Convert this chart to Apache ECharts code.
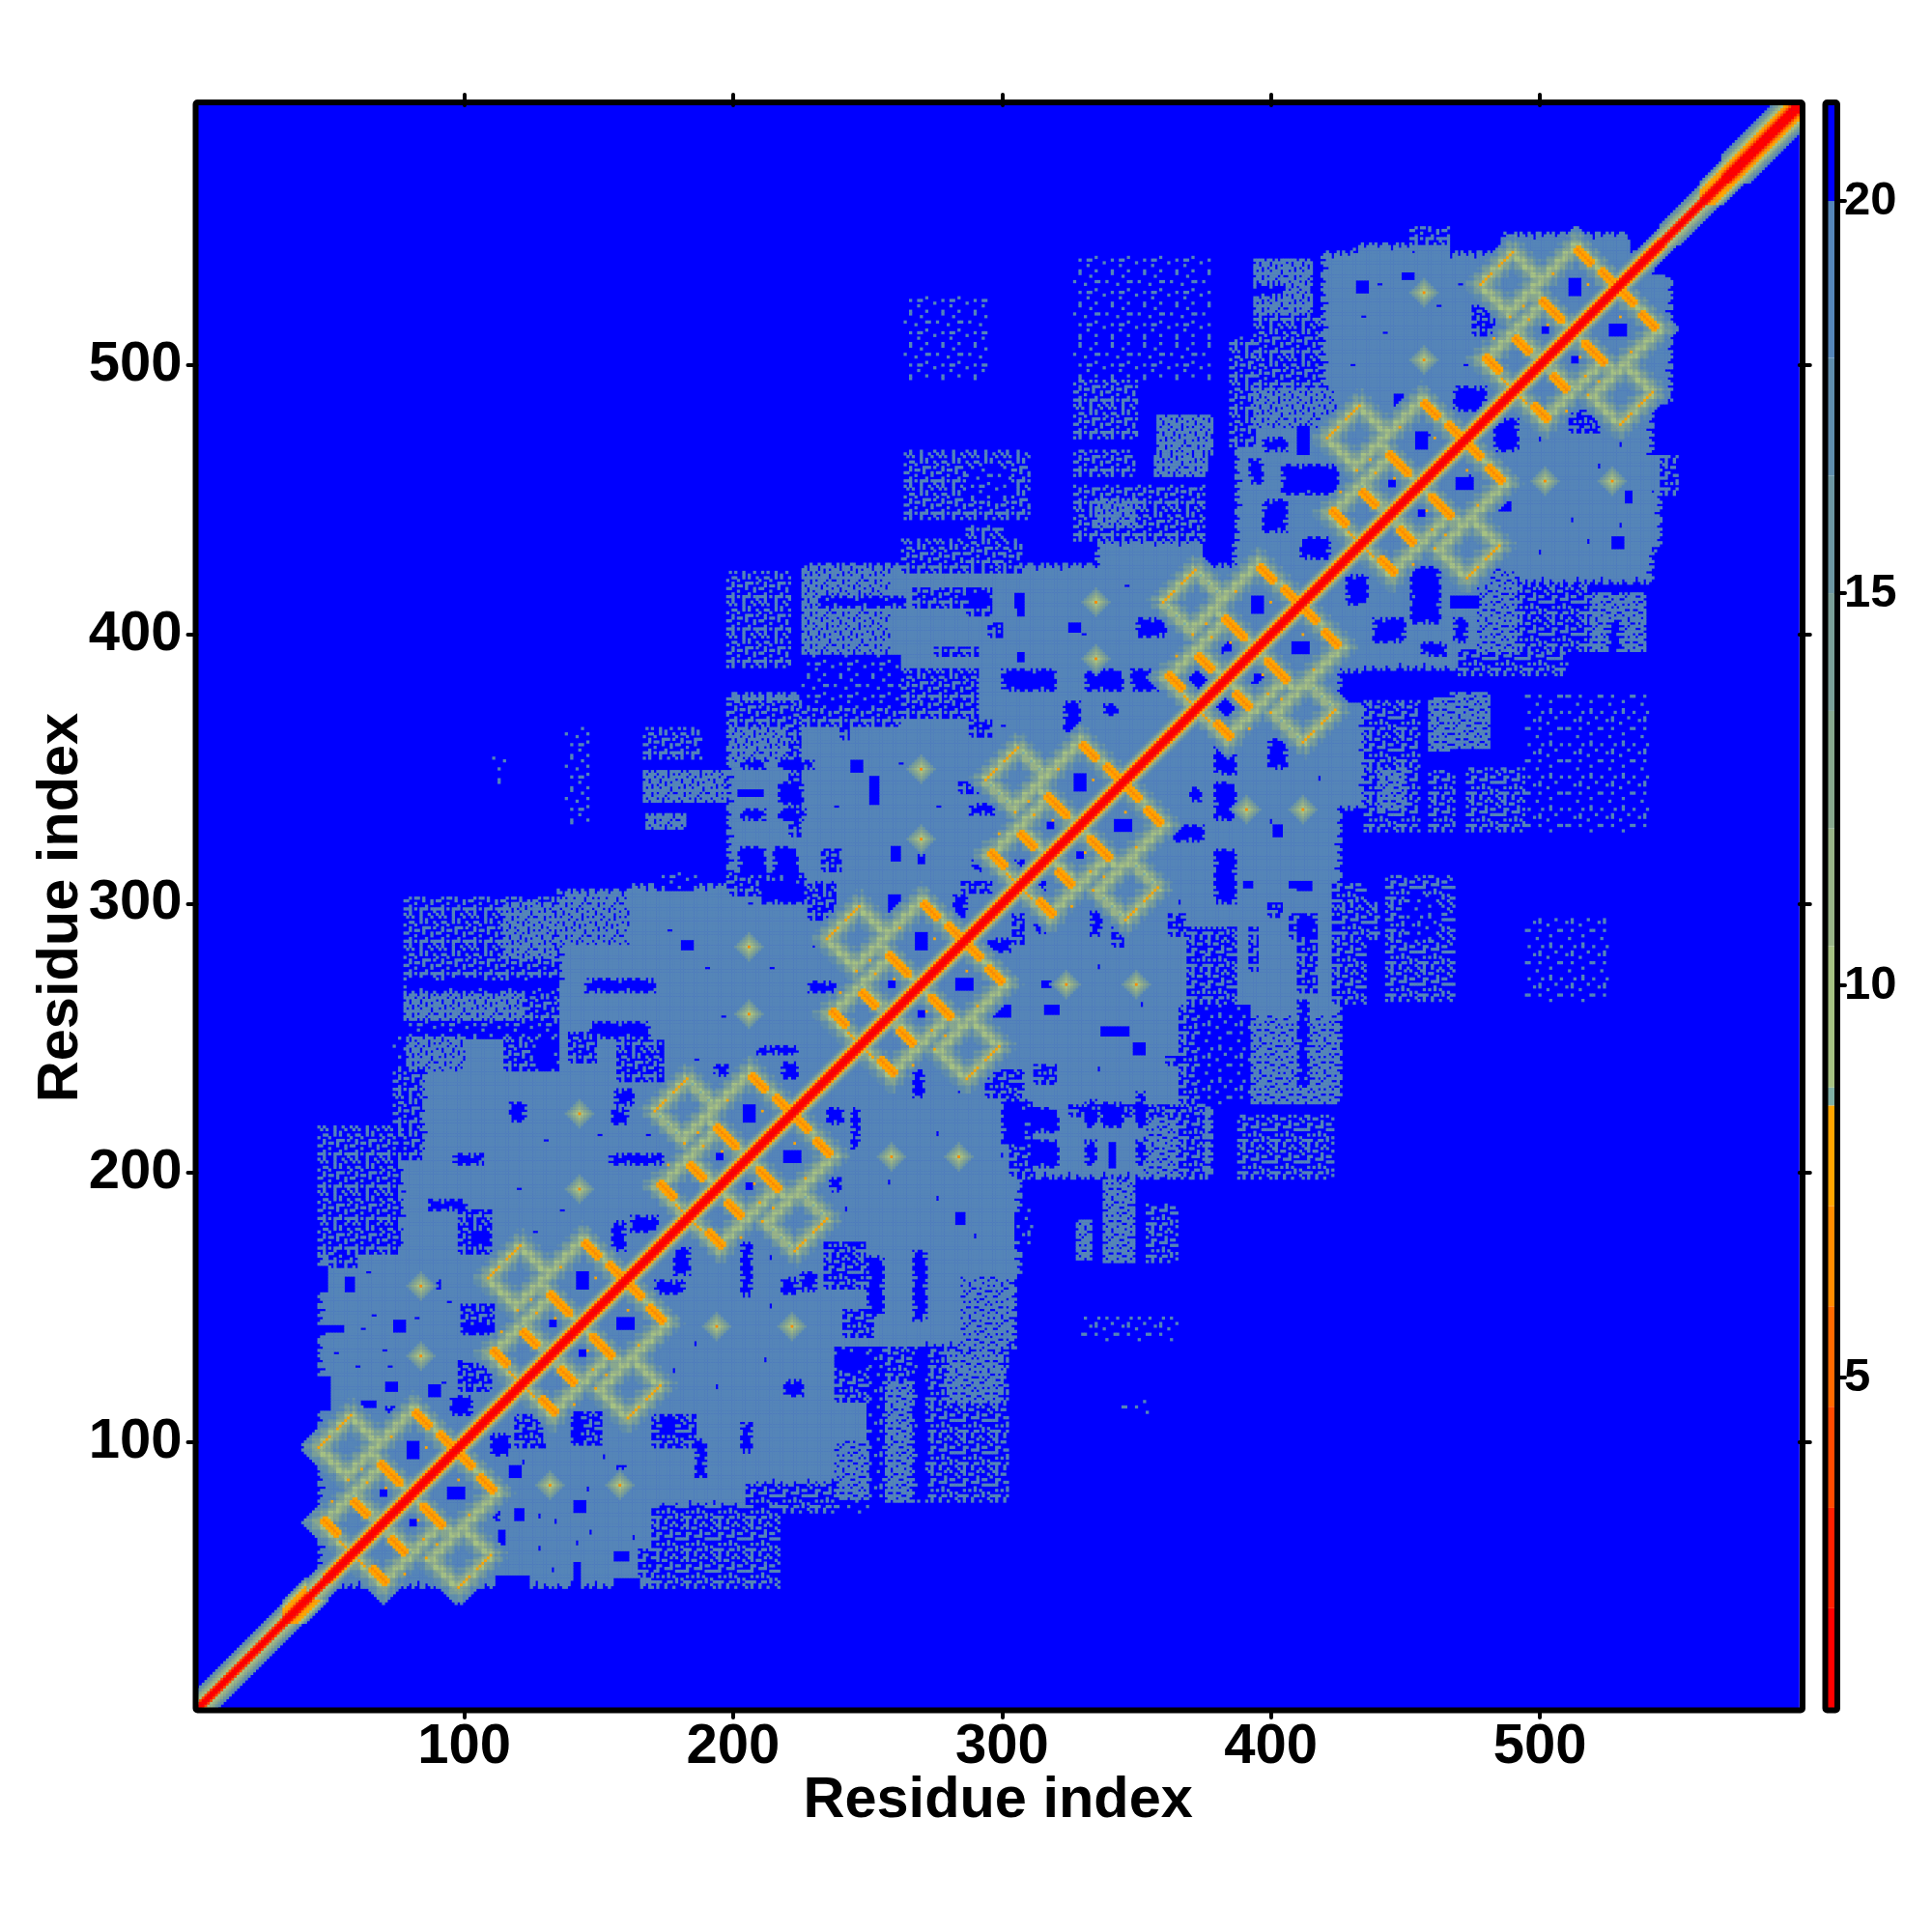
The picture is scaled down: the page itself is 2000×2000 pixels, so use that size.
<!DOCTYPE html>
<html><head><meta charset="utf-8">
<style>html,body{margin:0;background:#fff}#c{width:2000px;height:2000px}</style>
<script src="https://cdn.jsdelivr.net/npm/echarts@6/dist/echarts.min.js"></script>
</head><body><div id="c"></div>
<script>
const residueCount = 596;
const tickLabels = [100,200,300,400,500];
const colorTicks = [5,10,15,20];
const colorBreaks = [0.79,2.06,3.34,4.63,5.91,7.19,8.47,8.7,10.5,12,13.5,15,16.5,18,20,21.22];
const colorValues = ['#ff0000','#ff2000','#ff4a00','#ff6a00','#ff8c00','#ffa500','#7fb0a5','#a6c283','#98b387','#88a88e','#7a9f98','#6c96a2','#5f8dac','#5585b8','#0000ff'];
const STEEL = 19, BLUE = 21;

// regions of the upper triangle read as steel: [x0,x1,y0,y1]
const steelRects = [[46,175,48,173],[76,305,170,208],[84,305,205,241],[78,305,238,270],[135,350,267,305],[161,350,302,307],
[198,380,303,378],[226,425,375,426],[335,374,423,435],[386,425,423,435],[387,560,432,488],[419,560,485,542],[431,452,539,545],[452,466,539,548],[486,533,539,549]];

// speckled regions: [x0,x1,y0,y1,density tile]
const speckleRects = [[78,135,272,302,2],[115,133,280,300,3],[78,123,256,267,3],[123,135,256,267,2],[78,135,250,256,1],[78,100,238,250,3],[115,135,238,250,2],
[135,161,285,302,3],[74,84,205,238,2],[46,76,181,217,2],[46,76,170,181,2],[50,60,165,170,2],[74,78,238,250,1],[139,149,241,252,2],[157,174,234,249,2],[98,110,170,186,2],[99,111,140,151,2],[98,110,119,129,2],
[233,240,312,320,2],[228,238,294,308,2],[284,295,341,345,2],[285,296,304,308,2],[199,224,353,372,3],[199,224,366,375,2],[221,225,325,372,2],[168,182,328,333,3],[167,197,338,349,3],[167,188,354,365,2],[198,221,388,423,2],
[226,258,393,425,3],[226,262,372,392,1],[226,262,366,372,2],[263,291,375,387,2],[263,291,369,375,2],[267,294,410,417,2],[263,307,423,435,2],[264,310,443,468,2],[264,294,495,525,1],[287,303,450,462,1],[287,300,425,440,2],
[327,350,473,495,2],[358,378,467,481,3],[357,376,459,467,3],[327,349,459,468,2],[327,375,435,455,2],[335,350,440,450,3],[327,378,495,510,1],[327,378,510,540,1],
[394,415,518,539,3],[385,394,470,510,2],[394,418,491,518,2],[394,424,477,491,3],[452,466,545,551,2],[138,146,330,365,1],[111,115,345,356,1],[172,186,305,312,1],[199,226,303,312,2],[295,300,399,404,2],[275,291,392,395,2],[288,296,362,368,2],[240,243,361,365,2],[379,382,388,395,2],[287,296,407,417,2],[475,483,511,522,2]];

// holes read as solid blue: [x0,x1,y0,y1]
const blueRects = [[78,135,267,272],[145,171,267,272],[147,169,250,256],[126,135,238,250],[117,123,219,226],[156,163,225,231],[155,161,218,224],[96,107,203,207],[154,174,203,207],[87,101,186,190],
[103,109,172,178],[155,160,171,182],[162,172,178,184],[56,59,156,161],[86,92,157,160],[100,111,141,143],[46,55,141,143],[74,78,141,145],[95,103,110,117],[87,91,117,121],[71,75,119,122],[62,67,113,115],[71,76,110,113],[46,49,156,165],[46,50,112,124],
[181,185,283,286],[218,224,235,241],[193,198,236,240],[209,224,244,247],[244,248,349,353],[251,254,337,347],[288,297,333,337],[259,262,316,321],[269,271,315,321],[289,309,312,316],[282,287,295,303],[258,262,295,303],[228,238,267,271],
[203,212,350,353],[217,230,350,353],[202,211,340,342],[217,226,337,345],[203,212,331,335],[217,227,331,335],[202,212,310,321],[215,224,310,321],[210,227,300,309],[232,264,410,414],[305,308,410,415],[300,320,379,387],[331,345,379,387],[348,379,379,387],[323,329,363,375],[338,343,370,374],
[397,406,468,473],[410,414,467,477],[392,397,456,465],[404,425,452,463],[397,406,438,450],[411,422,428,436],[394,405,526,530],[432,436,527,531],[449,453,532,534],[446,449,483,489],[468,480,483,492],[350,361,399,406],[306,308,407,413],[325,329,401,404],[380,386,397,406],[287,296,410,416],[306,308,390,393]];
// single stray blue cells read inside the steel regions
const blueDots = [[66,147],[62,142],[70,134],[72,128],[60,128],[92,122],[82,146],[98,130],[94,152],[52,133],[64,163],[120,194],[126,178],[136,186],[146,196],[150,214],[124,246],[130,212],[168,214],[178,230],[186,242],[196,258],[214,276],[206,300],[176,290],[190,276],[230,284],[242,290],[238,336],[262,352],[276,336],[300,366],[312,352],[252,370],[308,360],[330,400],[346,418],[430,500],[442,512],[462,522],[470,530],[428,470],[436,462],[446,476],[458,474],[472,500],[434,518],[440,530],[414,452],[212,184],[204,196],[158,140],[166,152],[176,164],[156,166],[122,146],[114,132],[110,158]];
// roughness of region edges, in residues
const edgeSteel = [0,1,0,2,1,0,0,1,3,1,0,2,0,1,2,0,1,3,0,0,2,1];
const edgeHole = [0,1,0,0,1,1,0,2,0,1,0];

// 12x12 speckle tiles, one per density
const speckleTile1 = ["..#.........","..#.....#...","............",".....#......","...........#","..#..##.....","........#...","............","....#.......","#.......##..","............","......#....."];
const speckleTile2 = ["#.#...#..#..","..#...#....#","###.#.###.##","..#.....#...","....#.....#.","##.....#..#.","..#.##.#....","..#....###.#","#...#.......","..##..#.#..#","......#.#...",".#.#..#...#."];
const speckleTile3 = ["##.####.###.","#.###.#.#.##","###.####.###",".##.#.###.#.","##########.#","#.#.##.###.#","###.#.##.###","##.###.#.#.#",".#.###.#####","####.##.#.##","#.###.###.#.","##.#.####.##"];

// repeat units along the diagonal: first crossing residue of each
const clusterBases = [58,121,183,247,306,372,433,490];
// strokes of each repeat, relative to its base: [di,dj,length,direction]
const haloStrokes = [[-11,12,10,-1],[1,22,9,-1],[8,37,13,-1],[24,54,14,-1],[-11,39,9,-1],[1,51,9,-1],[-10,12,21,1],[-1,30,24,1],[-11,41,10,1]];
const ridgeStrokes = [[-10,13,5,-1],[1,20,5,-1],[11,34,7,-1],[24,53,5,-1],[33,45,5,-1]];
const thinStrokes = [[-4,5,3,-1],[-5,47,5,1],[-11,41,3,1]];
const ridgeDots = [[-1,28],[12,31],[6,27],[13,25],[19,26],[-12,40],[28,40],[-7,20],[4,32],[15,44]];
const motifHoles = [[21,25,36,42],[11,13,22,24]];
const haloByDistance = [10.4,11,12,13.5,15,16,17,18];
const haloHatch = [0,1.1,-0.9];
const ridgeCore = 6.2, ridgeSide = 7.8;

// isolated contact spots off the diagonal
const spots = [[84,158],[84,132],[143,222],[143,194],[206,284],[206,259],[270,350],[270,324],[335,412],[335,391],[457,527],[457,502]];
const spotByDistance = [6.5,9.5,10.5,12,14,16,18];

// value by distance from the diagonal, per stretch of the chain
const bandCore = [1.5,1.5,3,7.5,10.5,14,17.5];
const bandTail = [1.5,1.5,4.5,9.5,11,13,15,17];
const bandBurst = [1.5,1.5,2.5,6.5,7.5,7.5,10,13,17];
const bandWide = [1.5,1.5,2,4,6.5,7.5,10,11,13.5,16,18];
const bandSections = [[1,33,bandTail],[33,42,bandBurst],[42,48,bandTail],[48,545,bandCore],[545,560,bandTail],[560,568,bandBurst],[568,597,bandWide]];

const residues = [];
for (let r=1;r<=residueCount;r++) residues.push(r);
const M = [];
for (let i=0;i<=residueCount+1;i++) M.push(new Float32Array(residueCount+2).fill(BLUE));
const paint = (x,y,v)=>{ // keep the closest contact, mirrored across the diagonal
  if (x<1||y<1||x>residueCount||y>residueCount) return;
  if (v<M[x][y]) {M[x][y]=v;} if (v<M[y][x]) {M[y][x]=v;}
};
const assign = (x,y,v)=>{ if (x<1||y<1||x>residueCount||y>residueCount||x>=y) return; M[x][y]=v; M[y][x]=v; };
const inRough=(x,y,a,b,c,d,e)=>{
  const n=e.length;
  return x>=a+e[y%n] && x<=b-e[(y+5)%n] && y>=c+e[x%n] && y<=d-e[(x+3)%n];
};
steelRects.forEach(([a,b,c,d])=>{for(let y=c;y<=d;y++)for(let x=a;x<=b;x++) if(x>=a+edgeSteel[y%edgeSteel.length] && y<=d-edgeSteel[(x+3)%edgeSteel.length] && (c>48||y>=c+edgeSteel[x%edgeSteel.length]||x>=y-8)) assign(x,y,STEEL);});
const tiles=[null,speckleTile1,speckleTile2,speckleTile3];
speckleRects.forEach(([a,b,c,d,t])=>{for(let y=c;y<=d;y++)for(let x=a;x<=b;x++){assign(x,y,tiles[t][(y-c)%12][(x-a)%12]==='#'?STEEL:BLUE);}});
blueRects.forEach(([a,b,c,d])=>{const big=(b-a)>=5&&(d-c)>=3;for(let y=c;y<=d;y++)for(let x=a;x<=b;x++) if(!big||inRough(x,y,a,b,c,d,edgeHole)) assign(x,y,BLUE);});
blueDots.forEach(([x,y])=>{assign(x,y,BLUE);assign(x+1,y,BLUE);});
clusterBases.forEach(b=>{
  motifHoles.forEach(([x0,x1,y0,y1])=>{for(let y=y0;y<=y1;y++)for(let x=x0;x<=x1;x++)assign(b+x,b+y,BLUE);});
  haloStrokes.forEach(([di,dj,len,dir])=>{
    for(let k=0;k<=len;k++){
      const cx=b+di+k, cy=b+dj+dir*k;
      for(let ox=-7;ox<=7;ox++)for(let oy=-7;oy<=7;oy++){
        const l=Math.abs(ox)+Math.abs(oy); if(l>7) continue;
        const x=cx+ox,y=cy+oy;
        paint(x,y,Math.min(haloByDistance[l]+haloHatch[x%3]+haloHatch[y%3],STEEL));
      }
    }
  });
  ridgeStrokes.forEach(([di,dj,len,dir])=>{
    for(let k=0;k<=len;k++){
      const cx=b+di+k, cy=b+dj+dir*k;
      paint(cx,cy,ridgeCore);paint(cx+1,cy,ridgeSide);paint(cx,cy-1,ridgeSide);paint(cx-1,cy,ridgeSide);paint(cx,cy+1,ridgeSide);
      paint(cx+1,cy+1,ridgeSide);paint(cx-1,cy-1,ridgeSide);
    }
  });
  thinStrokes.forEach(([di,dj,len,dir])=>{
    for(let k=0;k<=len;k++) paint(b+di+k,b+dj+dir*k,ridgeSide);
  });
  ridgeDots.forEach(([di,dj])=>paint(b+di,b+dj,ridgeSide));
});
spots.forEach(([sx,sy])=>{
  for(let ox=-6;ox<=6;ox++)for(let oy=-6;oy<=6;oy++){
    const l=Math.abs(ox)+Math.abs(oy); if(l<=6) paint(sx+ox,sy+oy,spotByDistance[l]);
  }
});
bandSections.forEach(([from,to,prof])=>{
  for(let i=from;i<to;i++) prof.forEach((v,d)=>paint(i,i+d,v));
});
const cells=[];
for(let x=1;x<=residueCount;x++)for(let y=1;y<=residueCount;y++){
  if(M[x][y]<20) cells.push([x-1,y-1,M[x][y]]);
}
const barHeights=[];
for(let i=0;i<colorValues.length;i++) barHeights.push(i===0?colorBreaks[1]:colorBreaks[i+1]-colorBreaks[i]);

const showTick=(idx,val)=>tickLabels.indexOf(+val)>=0;
const font={fontFamily:'"Liberation Sans"',fontWeight:'bold',color:'#000'};
const tickStyle={color:'#000',width:4,cap:'round'};
const mainX={type:'category',data:residues,gridIndex:0,boundaryGap:true,axisLine:{show:false},splitLine:{show:false}};
const mainY={type:'category',data:residues,gridIndex:0,boundaryGap:true,axisLine:{show:false},splitLine:{show:false}};
const pieces=colorValues.map((c,i)=>({gte:colorBreaks[i],lt:colorBreaks[i+1],color:c}));
const frame=(x,y,w,h)=>({type:'rect',z:100,shape:{x,y,width:w,height:h,r:2},style:{fill:null,stroke:'#000',lineWidth:6}});
const chart=echarts.init(document.getElementById('c'),null,{renderer:'canvas'});
chart.setOption({
  animation:false,backgroundColor:'#fff',
  grid:[{left:203.5,top:109,width:1659.3,height:1661,show:true,backgroundColor:'#0000ff',borderWidth:0},
        {left:1892,top:109,width:8,height:1659,show:false}],
  xAxis:[
    Object.assign({},mainX,{position:'bottom',name:'Residue index',nameLocation:'middle',nameMoveOverlap:false,nameGap:65,nameTextStyle:Object.assign({fontSize:59.5},font),
      axisTick:{show:true,alignWithLabel:true,interval:showTick,length:8,lineStyle:tickStyle},
      axisLabel:{show:true,interval:showTick,margin:9.5,fontSize:58,...font}}),
    Object.assign({},mainX,{position:'top',axisTick:{show:true,alignWithLabel:true,interval:showTick,length:11,lineStyle:tickStyle},axisLabel:{show:false}}),
    {type:'category',gridIndex:1,data:['c'],axisLine:{show:false},axisTick:{show:false},axisLabel:{show:false}}
  ],
  yAxis:[
    Object.assign({},mainY,{position:'left',name:'Residue index',nameLocation:'middle',nameMoveOverlap:false,nameGap:110,nameRotate:90,nameTextStyle:Object.assign({fontSize:59.5},font),
      axisTick:{show:true,alignWithLabel:true,interval:showTick,length:9,lineStyle:tickStyle},
      axisLabel:{show:true,interval:showTick,margin:15,fontSize:58,padding:[5,0,0,0],...font}}),
    Object.assign({},mainY,{position:'right',axisTick:{show:true,alignWithLabel:true,interval:showTick,length:11,lineStyle:tickStyle},axisLabel:{show:false}}),
    {type:'value',gridIndex:1,position:'right',min:colorBreaks[0],max:colorBreaks[colorBreaks.length-1],axisLine:{show:false},splitLine:{show:false},
      axisTick:{show:true,customValues:colorTicks,length:10,lineStyle:tickStyle},
      axisLabel:{show:true,customValues:colorTicks,margin:9,fontSize:49,padding:[5,0,0,0],...font}}
  ],
  visualMap:[{type:'piecewise',show:false,seriesIndex:0,dimension:2,pieces:pieces}],
  series:[
    {type:'heatmap',xAxisIndex:0,yAxisIndex:0,data:cells,progressive:0,animation:false,itemStyle:{borderWidth:0},emphasis:{disabled:true},silent:true},
    ...barHeights.map((h,i)=>({type:'bar',xAxisIndex:2,yAxisIndex:2,stack:'scale',barWidth:'100%',data:[h],itemStyle:{color:colorValues[i]},silent:true}))
  ],
  graphic:[frame(202.5,106,1663.5,1664.5),frame(1889.5,106,12.5,1664.5)]
});
</script></body></html>
